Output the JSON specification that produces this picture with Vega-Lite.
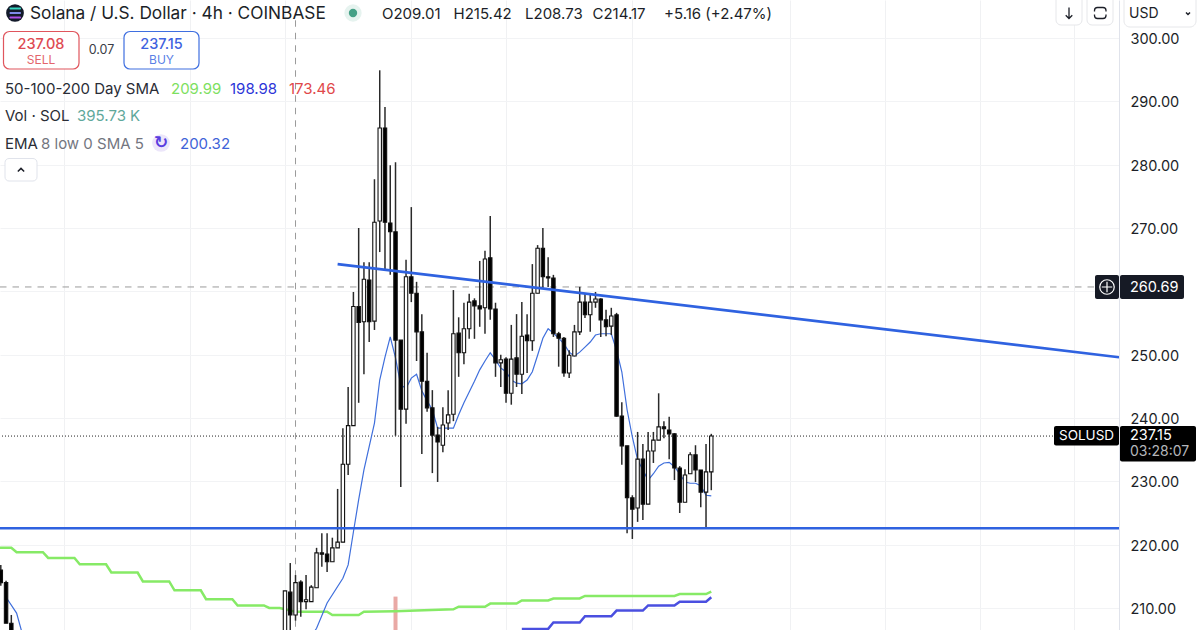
{"$schema":"https://vega.github.io/schema/vega-lite/v6.json","width":1119,"height":630,"autosize":{"type":"none"},"padding":{"left":0,"top":0,"right":81,"bottom":0},"background":"#ffffff","config":{"view":{"stroke":null},"text":{"font":"Inter"}},
"data":{"values":[{}]},
"datasets":{"candles":[
{"k":-1,"o":216.0,"h":216.8,"l":213.5,"c":214.0},{"k":0,"o":214.0,"h":214.3,"l":207.6,"c":207.6},{"k":1,"o":207.6,"h":208.9,"l":203,"c":204},
{"k":53,"o":205,"h":212.7,"l":204,"c":212.7},{"k":54,"o":212.5,"h":217.1,"l":205.5,"c":208.9},{"k":55,"o":208.9,"h":215.2,"l":208,"c":214.0},{"k":56,"o":214.1,"h":214.4,"l":208.6,"c":211.0},{"k":57,"o":211,"h":215.2,"l":209.8,"c":211.3},{"k":58,"o":211,"h":213.6,"l":211,"c":213.3},{"k":59,"o":213.2,"h":219.5,"l":213.2,"c":218.7},{"k":60,"o":218.7,"h":221.8,"l":216.5,"c":218.5},{"k":61,"o":218.5,"h":221.8,"l":215.7,"c":217.3},{"k":62,"o":217.3,"h":221.1,"l":217.3,"c":219.5},{"k":63,"o":219.5,"h":228.8,"l":219.5,"c":220.4},{"k":64,"o":220.4,"h":238.4,"l":220.4,"c":232.7},{"k":65,"o":232.7,"h":244.9,"l":231,"c":238.8},{"k":66,"o":238.8,"h":259.9,"l":238.8,"c":257.6},{"k":67,"o":257.6,"h":270,"l":242.4,"c":255.1},{"k":68,"o":255.2,"h":264.6,"l":246.9,"c":261.9},{"k":69,"o":261.8,"h":264.6,"l":252,"c":255.2},{"k":70,"o":255.3,"h":277.7,"l":253.9,"c":270.9},{"k":71,"o":271.1,"h":294.9,"l":266.2,"c":285.8},{"k":72,"o":285.8,"h":289.1,"l":263.4,"c":270.9},{"k":73,"o":270.8,"h":279.9,"l":262.6,"c":269.4},{"k":74,"o":269.4,"h":280.4,"l":237.2,"c":252.3},{"k":75,"o":252.3,"h":252.3,"l":229.1,"c":241.4},{"k":76,"o":241.4,"h":265,"l":239.1,"c":262.3},{"k":77,"o":262.3,"h":273.3,"l":258.3,"c":259.7},{"k":78,"o":259.7,"h":261.5,"l":249,"c":253.6},{"k":79,"o":253.6,"h":256.4,"l":234.3,"c":245.8},{"k":80,"o":245.8,"h":250.3,"l":241,"c":241.6},{"k":81,"o":241.6,"h":244.4,"l":231.3,"c":237.3},{"k":82,"o":237.3,"h":238.6,"l":229.9,"c":236.2},{"k":83,"o":235.7,"h":241.7,"l":234.6,"c":238.9},{"k":84,"o":239.2,"h":244.4,"l":238.1,"c":240.5},{"k":85,"o":240.6,"h":260.2,"l":239.5,"c":253.3},{"k":86,"o":253.4,"h":255.9,"l":246.5,"c":250.3},{"k":87,"o":250.3,"h":258.2,"l":248.5,"c":254.1},{"k":88,"o":254.1,"h":259.6,"l":252.5,"c":258.3},{"k":89,"o":258.5,"h":258.9,"l":252.5,"c":257.7},{"k":90,"o":257.7,"h":264.8,"l":254.4,"c":257.2},{"k":91,"o":257.4,"h":266.4,"l":253.3,"c":265.1},{"k":92,"o":265.3,"h":271.9,"l":255.5,"c":257.2},{"k":93,"o":257.2,"h":258.2,"l":246.5,"c":248.7},{"k":94,"o":248.7,"h":250,"l":244.9,"c":249.2},{"k":95,"o":249.3,"h":249.6,"l":242.4,"c":243.9},{"k":96,"o":243.9,"h":254.7,"l":242.1,"c":249.3},{"k":97,"o":249.5,"h":256.4,"l":244.9,"c":246.9},{"k":98,"o":246.9,"h":258.3,"l":243.8,"c":252.9},{"k":99,"o":253.1,"h":256.4,"l":247.1,"c":252.2},{"k":100,"o":252.2,"h":264.3,"l":250.6,"c":259.7},{"k":101,"o":259.7,"h":267.3,"l":259.7,"c":266.8},{"k":102,"o":266.8,"h":270,"l":260.5,"c":262.3},{"k":103,"o":262.3,"h":265.4,"l":260.7,"c":262.1},{"k":104,"o":262.1,"h":262.6,"l":252.8,"c":253.3},{"k":105,"o":253.3,"h":253.6,"l":248.1,"c":252.6},{"k":106,"o":252.6,"h":252.8,"l":246.5,"c":247.1},{"k":107,"o":247.1,"h":250.7,"l":246.3,"c":249.9},{"k":108,"o":249.8,"h":254.7,"l":249.8,"c":253.6},{"k":109,"o":253.6,"h":260.7,"l":253.1,"c":258.3},{"k":110,"o":258.3,"h":259.7,"l":255.8,"c":256.3},{"k":111,"o":256.3,"h":259.7,"l":253.6,"c":258.3},{"k":112,"o":258.3,"h":259.9,"l":257.4,"c":258.8},{"k":113,"o":258.8,"h":258.9,"l":252.8,"c":255.5},{"k":114,"o":255.5,"h":257.1,"l":252.9,"c":254.4},{"k":115,"o":254.5,"h":257.4,"l":253.1,"c":256.1},{"k":116,"o":256.3,"h":256.6,"l":240.2,"c":240.3},{"k":117,"o":240.3,"h":242.5,"l":232.6,"c":235.6},{"k":118,"o":235.6,"h":235.6,"l":221.8,"c":227.4},{"k":119,"o":227.4,"h":227.8,"l":220.9,"c":225.6},{"k":120,"o":225.8,"h":237.8,"l":223.6,"c":233.5},{"k":121,"o":233.5,"h":235.9,"l":223.9,"c":226.4},{"k":122,"o":226.4,"h":237.8,"l":226.4,"c":234.8},{"k":123,"o":234.8,"h":237.8,"l":232.9,"c":236.5},{"k":124,"o":236.5,"h":243.9,"l":236.5,"c":238.6},{"k":125,"o":238.6,"h":239.5,"l":236.8,"c":238.3},{"k":126,"o":238.1,"h":240.2,"l":233.5,"c":237.5},{"k":127,"o":237.5,"h":237.6,"l":230.2,"c":232.1},{"k":128,"o":232.1,"h":232.4,"l":225,"c":226.7},{"k":129,"o":226.7,"h":231.9,"l":226.7,"c":231},{"k":130,"o":231.2,"h":234.6,"l":231.2,"c":234.2},{"k":131,"o":234.2,"h":235.7,"l":229.9,"c":231.8},{"k":132,"o":231.8,"h":231.8,"l":225.9,"c":228.3},{"k":133,"o":228.3,"h":235.9,"l":222.6,"c":231.5},{"k":134,"o":231.5,"h":237.5,"l":228.6,"c":237.15}],
"ema":[{"k":0,"v":211.7},{"k":2,"v":209.2},{"k":3,"v":206.2},{"k":20,"v":195},{"k":50,"v":198},{"k":58,"v":205.5},{"k":59,"v":206.8},{"k":61,"v":210.8},{"k":64,"v":214.7},{"k":65,"v":216.8},{"k":66,"v":222},{"k":67,"v":227.1},{"k":68,"v":231.8},{"k":70,"v":239.2},{"k":71,"v":246},{"k":72,"v":249.6},{"k":73,"v":252.8},{"k":74,"v":249.5},{"k":75,"v":245.2},{"k":76,"v":244.7},{"k":77,"v":246.3},{"k":78,"v":246.9},{"k":79,"v":244.3},{"k":80,"v":242.7},{"k":81,"v":241.3},{"k":82,"v":238.4},{"k":83,"v":238.4},{"k":85,"v":238.4},{"k":86,"v":240.5},{"k":87,"v":242.4},{"k":88,"v":244.1},{"k":89,"v":245.8},{"k":90,"v":247.6},{"k":91,"v":249},{"k":92,"v":250.3},{"k":93,"v":249.2},{"k":94,"v":247.9},{"k":95,"v":247.3},{"k":96,"v":246},{"k":97,"v":245.5},{"k":98,"v":245.4},{"k":99,"v":246},{"k":100,"v":247.3},{"k":101,"v":249.9},{"k":102,"v":252.6},{"k":103,"v":254.1},{"k":104,"v":253.4},{"k":105,"v":252.6},{"k":106,"v":251.7},{"k":107,"v":250.4},{"k":108,"v":249.8},{"k":109,"v":250.4},{"k":110,"v":251.2},{"k":111,"v":252},{"k":112,"v":253.1},{"k":113,"v":253.3},{"k":115,"v":253.3},{"k":116,"v":250.7},{"k":117,"v":247.3},{"k":118,"v":241.3},{"k":119,"v":237},{"k":120,"v":233.4},{"k":121,"v":231.8},{"k":122,"v":230.2},{"k":123,"v":231.2},{"k":124,"v":232.4},{"k":125,"v":232.9},{"k":126,"v":233},{"k":127,"v":232.3},{"k":128,"v":231.2},{"k":129,"v":229.9},{"k":130,"v":229.7},{"k":131,"v":229.7},{"k":132,"v":229.3},{"k":133,"v":227.8},{"k":134,"v":227.7}],
"sma50":[{"k":-2,"v":219.5},{"k":1,"v":219.5},{"k":2,"v":218.8},{"k":7,"v":218.8},{"k":8,"v":217.9},{"k":13,"v":217.9},{"k":14,"v":216.9},{"k":19,"v":216.9},{"k":20,"v":215.6},{"k":25,"v":215.6},{"k":26,"v":214.2},{"k":31,"v":214.2},{"k":32,"v":212.8},{"k":37,"v":212.8},{"k":38,"v":211.4},{"k":43,"v":211.4},{"k":44,"v":210.4},{"k":49,"v":210.4},{"k":50,"v":210},{"k":52,"v":210},{"k":55,"v":209.4},{"k":61,"v":209.4},{"k":62,"v":208.9},{"k":67,"v":208.9},{"k":68,"v":209.4},{"k":74,"v":209.5},{"k":78,"v":209.6},{"k":85,"v":209.8},{"k":86,"v":210.2},{"k":91,"v":210.2},{"k":92,"v":210.7},{"k":97,"v":210.7},{"k":98,"v":211.2},{"k":103,"v":211.2},{"k":104,"v":211.5},{"k":109,"v":211.5},{"k":110,"v":211.9},{"k":127,"v":211.9},{"k":128,"v":212.2},{"k":133,"v":212.2},{"k":134,"v":212.6}],
"sma100":[{"k":98,"v":206.7},{"k":103,"v":206.7},{"k":104,"v":207.7},{"k":109,"v":207.7},{"k":110,"v":208.7},{"k":115,"v":208.7},{"k":116,"v":209.6},{"k":121,"v":209.6},{"k":122,"v":210.4},{"k":127,"v":210.4},{"k":128,"v":211},{"k":133,"v":211},{"k":134,"v":211.7}],
"trend":[{"k":63,"v":264.3},{"k":211.47,"v":249.6}]},
"layer":[
{"data":{"name":"candles"},"mark":{"type":"rule","opacity":0},"encoding":{"x":{"field":"k","type":"quantitative","title":null,"scale":{"domain":[-1.1514,211.47],"nice":false,"zero":false,"padding":0},"axis":{"values":[11,35,53,77,95,119,149,167,185,203],"grid":true,"gridColor":"#f0f1f3","gridWidth":1,"labels":false,"ticks":false,"domain":false,"title":null}},"y":{"field":"l","type":"quantitative","title":null,"scale":{"domain":[206.526,306],"nice":false,"zero":false},"axis":{"orient":"right","values":[210,220,230,240,250,260,270,280,290,300],"format":".2f","labelExpr":"datum.value==260?'':datum.label","grid":true,"gridColor":"#f2f3f5","gridWidth":1,"ticks":false,"domain":true,"domainColor":"#e0e3eb","domainWidth":1,"labelFont":"Inter","labelFontSize":14.5,"labelColor":"#1c1f28","labelPadding":11,"labelOffset":1.5,"title":null}}}},
{"data":{"values":[{"k":55,"a":302.8,"b":206.526}]},"mark":{"type":"rule","color":"#9a9a9a","strokeWidth":1,"strokeDash":[6.5,6]},"encoding":{"x":{"field":"k","type":"quantitative"},"y":{"field":"a","type":"quantitative"},"y2":{"field":"b"}}},
{"data":{"values":[{"p":260.69}]},"mark":{"type":"rule","color":"#9a9a9a","strokeWidth":1,"strokeDash":[6.5,6]},"encoding":{"y":{"field":"p","type":"quantitative"}}},
{"data":{"values":[{"p":237.15}]},"mark":{"type":"rule","color":"#222222","strokeWidth":1,"strokeDash":[1,2]},"encoding":{"y":{"field":"p","type":"quantitative"}}},
{"data":{"values":[{"k":74,"a":206.526,"b":211.8}]},"mark":{"type":"bar","size":4,"color":"#e9a9a5","clip":true},"encoding":{"x":{"field":"k","type":"quantitative"},"y":{"field":"a","type":"quantitative"},"y2":{"field":"b"}}},
{"data":{"name":"sma50"},"mark":{"type":"line","color":"#86ea66","strokeWidth":2.5,"clip":true},"encoding":{"x":{"field":"k","type":"quantitative"},"y":{"field":"v","type":"quantitative"}}},
{"data":{"name":"sma100"},"mark":{"type":"line","color":"#4a4fe0","strokeWidth":2.5,"clip":true},"encoding":{"x":{"field":"k","type":"quantitative"},"y":{"field":"v","type":"quantitative"}}},
{"data":{"name":"ema"},"mark":{"type":"line","color":"#3f6fdc","strokeWidth":1.2,"clip":true},"encoding":{"x":{"field":"k","type":"quantitative"},"y":{"field":"v","type":"quantitative"}}},
{"data":{"name":"candles"},"mark":{"type":"rule","color":"#2a2a2a","strokeWidth":1.5,"clip":true},"encoding":{"x":{"field":"k","type":"quantitative"},"y":{"field":"l","type":"quantitative"},"y2":{"field":"h"}}},
{"data":{"name":"candles"},"mark":{"type":"bar","size":3.4,"stroke":"#111111","strokeWidth":1.1,"clip":true},"encoding":{"x":{"field":"k","type":"quantitative"},"y":{"field":"o","type":"quantitative"},"y2":{"field":"c"},"fill":{"condition":{"test":"datum.c>=datum.o","value":"#ffffff"},"value":"#000000"}}},
{"data":{"name":"trend"},"mark":{"type":"line","color":"#2f62e0","strokeWidth":2.6,"clip":true},"encoding":{"x":{"field":"k","type":"quantitative"},"y":{"field":"v","type":"quantitative"}}},
{"data":{"values":[{"p":222.6}]},"mark":{"type":"rule","color":"#2f62e0","strokeWidth":2.4},"encoding":{"y":{"field":"p","type":"quantitative"}}},

{"mark":{"type":"point","filled":true,"color":"#131a2a","opacity":1,"size":314},"encoding":{"x":{"value":15},"y":{"value":13}}},
{"mark":{"type":"rect","color":"#36d6c0","cornerRadius":1},"encoding":{"x":{"value":9.5},"x2":{"value":21},"y":{"value":7.5},"y2":{"value":9.5}}},
{"mark":{"type":"rect","color":"#7f8bea","cornerRadius":1},"encoding":{"x":{"value":9.5},"x2":{"value":21},"y":{"value":12},"y2":{"value":14}}},
{"mark":{"type":"rect","color":"#b04fe8","cornerRadius":1},"encoding":{"x":{"value":9.5},"x2":{"value":21},"y":{"value":16.5},"y2":{"value":18.5}}},
{"mark":{"type":"text","text":"Solana / U.S. Dollar · 4h · COINBASE","x":30,"y":14,"align":"left","baseline":"middle","fontSize":17.3,"color":"#1c1f28"}},
{"mark":{"type":"point","filled":true,"color":"#e6f3ef","opacity":1,"size":300},"encoding":{"x":{"value":353},"y":{"value":13}}},
{"mark":{"type":"point","filled":true,"color":"#45a086","opacity":1,"size":70},"encoding":{"x":{"value":353},"y":{"value":13}}},
{"mark":{"type":"text","text":"O209.01","x":382,"y":14,"align":"left","baseline":"middle","fontSize":15,"color":"#1c1f28"}},
{"mark":{"type":"text","text":"H215.42","x":453.5,"y":14,"align":"left","baseline":"middle","fontSize":15,"color":"#1c1f28"}},
{"mark":{"type":"text","text":"L208.73","x":525,"y":14,"align":"left","baseline":"middle","fontSize":15,"color":"#1c1f28"}},
{"mark":{"type":"text","text":"C214.17","x":592.5,"y":14,"align":"left","baseline":"middle","fontSize":15,"color":"#1c1f28"}},
{"mark":{"type":"text","text":"+5.16 (+2.47%)","x":664,"y":14,"align":"left","baseline":"middle","fontSize":15,"color":"#1c1f28"}},

{"mark":{"type":"rect","fill":"#ffffff","stroke":"#e0555d","strokeWidth":1.2,"cornerRadius":6},"encoding":{"x":{"value":3.5},"x2":{"value":79},"y":{"value":31.5},"y2":{"value":69}}},
{"mark":{"type":"text","text":"237.08","x":41,"y":44.5,"align":"center","baseline":"middle","fontSize":14.5,"fontWeight":500,"color":"#de4a52"}},
{"mark":{"type":"text","text":"SELL","x":41,"y":60,"align":"center","baseline":"middle","fontSize":12,"color":"#e4656b"}},
{"mark":{"type":"text","text":"0.07","x":101.5,"y":50,"align":"center","baseline":"middle","fontSize":12.5,"color":"#3a3d47"}},
{"mark":{"type":"rect","fill":"#ffffff","stroke":"#3f6fe0","strokeWidth":1.2,"cornerRadius":6},"encoding":{"x":{"value":124},"x2":{"value":199},"y":{"value":31.5},"y2":{"value":69}}},
{"mark":{"type":"text","text":"237.15","x":161.5,"y":44.5,"align":"center","baseline":"middle","fontSize":14.5,"fontWeight":500,"color":"#3f63e0"}},
{"mark":{"type":"text","text":"BUY","x":161.5,"y":60,"align":"center","baseline":"middle","fontSize":12,"color":"#5a80e6"}},

{"mark":{"type":"text","text":"50-100-200 Day SMA","x":5,"y":89,"align":"left","baseline":"middle","fontSize":15,"color":"#2a2d36"}},
{"mark":{"type":"text","text":"209.99","x":171,"y":89,"align":"left","baseline":"middle","fontSize":15,"color":"#7de060"}},
{"mark":{"type":"text","text":"198.98","x":230,"y":89,"align":"left","baseline":"middle","fontSize":15,"color":"#2c35d8"}},
{"mark":{"type":"text","text":"173.46","x":289,"y":89,"align":"left","baseline":"middle","fontSize":15,"color":"#e0484a"}},
{"mark":{"type":"text","text":"Vol · SOL","x":5,"y":116,"align":"left","baseline":"middle","fontSize":15,"color":"#2a2d36"}},
{"mark":{"type":"text","text":"395.73 K","x":77,"y":116,"align":"left","baseline":"middle","fontSize":15,"color":"#5fa89b"}},
{"mark":{"type":"text","text":"EMA","x":5,"y":144,"align":"left","baseline":"middle","fontSize":15,"color":"#2a2d36"}},
{"mark":{"type":"text","text":"8 low 0 SMA 5","x":41,"y":144,"align":"left","baseline":"middle","fontSize":15,"color":"#73767f"}},
{"mark":{"type":"point","filled":true,"color":"#ece6fa","opacity":1,"size":314},"encoding":{"x":{"value":161},"y":{"value":143}}},
{"mark":{"type":"text","text":"↻","x":161,"y":143,"align":"center","baseline":"middle","font":"DejaVu Sans","fontSize":17,"fontWeight":"bold","color":"#5a3de0"}},
{"mark":{"type":"text","text":"200.32","x":180,"y":144,"align":"left","baseline":"middle","fontSize":15,"color":"#3f63d8"}},
{"mark":{"type":"rect","fill":"#ffffff","stroke":"#e0e3eb","strokeWidth":1,"cornerRadius":4},"encoding":{"x":{"value":5},"x2":{"value":37},"y":{"value":158.5},"y2":{"value":181}}},
{"mark":{"type":"point","shape":"M-1,0.5L0,-0.5L1,0.5","filled":false,"stroke":"#1c1f28","strokeWidth":1.5,"opacity":1,"size":40},"encoding":{"x":{"value":21},"y":{"value":170}}},

{"mark":{"type":"rect","fill":"#ffffff","stroke":"#e6e7ea","strokeWidth":1,"cornerRadius":5},"encoding":{"x":{"value":1056},"x2":{"value":1082},"y":{"value":-6},"y2":{"value":25}}},
{"mark":{"type":"point","shape":"M0,-1L0,1M-0.6,0.4L0,1L0.6,0.4","filled":false,"stroke":"#1c1f28","strokeWidth":1.3,"opacity":1,"size":120},"encoding":{"x":{"value":1069},"y":{"value":13}}},
{"mark":{"type":"rect","fill":"#ffffff","stroke":"#e6e7ea","strokeWidth":1,"cornerRadius":5},"encoding":{"x":{"value":1087},"x2":{"value":1113},"y":{"value":-6},"y2":{"value":25}}},
{"mark":{"type":"rect","fill":"#ffffff","stroke":"#1c1f28","strokeWidth":1.3,"cornerRadius":3},"encoding":{"x":{"value":1094.5},"x2":{"value":1106},"y":{"value":7.5},"y2":{"value":18.5}}},
{"mark":{"type":"rect","fill":"#ffffff","stroke":"#ffffff","strokeWidth":0},"encoding":{"x":{"value":1093},"x2":{"value":1108},"y":{"value":11.5},"y2":{"value":14.5}}},
{"mark":{"type":"rect","fill":"#ffffff","stroke":"#e6e7ea","strokeWidth":1,"cornerRadius":6},"encoding":{"x":{"value":1124},"x2":{"value":1196},"y":{"value":-6},"y2":{"value":27}}},
{"mark":{"type":"text","text":"USD","x":1129,"y":14,"align":"left","baseline":"middle","fontSize":14,"color":"#1c1f28"}},
{"mark":{"type":"point","shape":"M-1,-0.5L0,0.5L1,-0.5","filled":false,"stroke":"#1c1f28","strokeWidth":1.5,"opacity":1,"size":16},"encoding":{"x":{"value":1188},"y":{"value":13.5}}},

{"mark":{"type":"rect","fill":"#161a25","cornerRadius":2},"encoding":{"x":{"value":1095},"x2":{"value":1119},"y":{"value":275},"y2":{"value":299}}},
{"mark":{"type":"point","filled":false,"stroke":"#ffffff","strokeWidth":1.2,"opacity":1,"size":210},"encoding":{"x":{"value":1107},"y":{"value":287}}},
{"mark":{"type":"point","shape":"M-1,0L1,0M0,-1L0,1","filled":false,"stroke":"#ffffff","strokeWidth":1.2,"opacity":1,"size":110},"encoding":{"x":{"value":1107},"y":{"value":287}}},
{"mark":{"type":"rect","fill":"#161a25","cornerRadius":2},"encoding":{"x":{"value":1120},"x2":{"value":1184},"y":{"value":275},"y2":{"value":299}}},
{"mark":{"type":"text","text":"260.69","x":1130,"y":287.5,"align":"left","baseline":"middle","fontSize":14.5,"color":"#ffffff"}},
{"mark":{"type":"rect","fill":"#000000","cornerRadius":2},"encoding":{"x":{"value":1054},"x2":{"value":1119},"y":{"value":426},"y2":{"value":445.5}}},
{"mark":{"type":"text","text":"SOLUSD","x":1086.5,"y":436,"align":"center","baseline":"middle","fontSize":13.5,"color":"#ffffff"}},
{"mark":{"type":"rect","fill":"#000000","cornerRadius":2},"encoding":{"x":{"value":1120},"x2":{"value":1196},"y":{"value":426},"y2":{"value":461.5}}},
{"mark":{"type":"text","text":"237.15","x":1130,"y":436,"align":"left","baseline":"middle","fontSize":14.5,"color":"#ffffff"}},
{"mark":{"type":"text","text":"03:28:07","x":1130,"y":452,"align":"left","baseline":"middle","fontSize":14,"color":"#b4b6bb"}}
]}
